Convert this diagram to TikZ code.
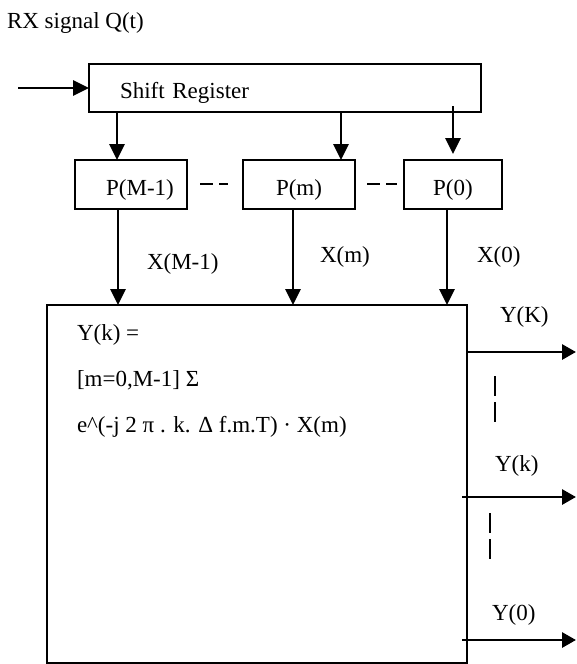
\documentclass[tikz,border=0pt]{standalone}
\usepackage{fontspec}
\setmainfont{Liberation Serif}
\usetikzlibrary{arrows.meta,calc}
\tikzset{
    dft/diagram/.style={
        x=1pt, y=-1pt,
        font=\fontsize{23}{27}\selectfont,
        line join=miter,
        every node/.style={inner sep=0pt, outer sep=0pt}
    },
    dft/block/.style={draw, rectangle, line width=1.7pt},
    dft/cell/.style={text height=26pt, text depth=5pt},
    dft/signal/.style={
        draw, line width=2.9pt,
        -{Triangle[length=16pt, width=15pt]}
    },
    dft/output/.style={
        draw, line width=2.9pt,
        -{Triangle[length=14pt, width=15pt]}
    },
    dft/dots/.style={draw, line width=1.7pt, dash pattern=on 13pt off 6pt},
    dft/label/.style={anchor=base west}
}

\begin{document}
\begin{tikzpicture}[dft/diagram]
    \useasboundingbox (0,0) rectangle (576,664);

    \node[dft/label] (title) at (7,28) {RX signal Q(t)};
    \coordinate (in) at (18,88);
    \node[dft/block, dft/cell, minimum width=392pt, minimum height=48pt,
        text width=330pt, align=left] (sreg) at (285,88) {Shift Register};
    \draw[dft/signal] (in) -- (sreg);

    % taps
    \node[dft/block, dft/cell, minimum width=112pt, minimum height=49pt]
        (pM) at (131,184.5) {\hspace{18pt}P(M-1)};
    \node[dft/block, dft/cell, minimum width=112pt, minimum height=49pt]
        (pm) at (299,184.5) {P(m)};
    \node[dft/block, dft/cell, minimum width=98pt, minimum height=49pt]
        (p0) at (453,184.5) {P(0)};
    \draw[dft/dots] (200,184) -- (228,184);
    \draw[dft/dots] (367,184) -- (397,184);

    \draw[dft/signal] (sreg.south -| 117,0) -- (pM.north -| 117,0);
    \draw[dft/signal] (sreg.south -| 341,0) -- (pm.north -| 341,0);
    \draw[dft/signal] ($(sreg.south -| p0)+(0,-6)$) -- ($(p0.north)+(0,-6)$);

    % transform block
    \node[dft/block, minimum width=420pt, minimum height=358pt]
        (dft) at (257,484) {};
    \node[dft/label] (eqa) at (77,340) {Y(k) =};
    \node[dft/label] (eqb) at (77,386) {[m=0,M-1] Σ};
    \node[dft/label] (eqc) at (77,432)
        {e\textasciicircum(-j 2 π . k. Δ f.m.T) · X(m)};

    \draw[dft/signal] (pM.south -| 118,0) -- (dft.north -| 118,0);
    \draw[dft/signal] (pm.south -| 293,0) -- (dft.north -| 293,0);
    \draw[dft/signal] (p0.south -| 447,0) -- (dft.north -| 447,0);
    \node[dft/label] (xM) at (147,269) {X(M-1)};
    \node[dft/label] (xm) at (320,262) {X(m)};
    \node[dft/label] (x0) at (477,262) {X(0)};

    % outputs
    \coordinate (yK) at (576,352);
    \coordinate (yk) at (576,497);
    \coordinate (y0) at (576,640);
    \draw[dft/output] (dft.east |- yK) -- (yK);
    \draw[dft/output] ($(dft.east |- yk)+(-5,0)$) -- (yk);
    \draw[dft/output] ($(dft.east |- y0)+(-5,0)$) -- (y0);
    \node[dft/label] (lK) at (500,322) {Y(K)};
    \node[dft/label] (lk) at (495,471) {Y(k)};
    \node[dft/label] (l0) at (492,620) {Y(0)};
    \draw[dft/dots, dash pattern=on 20pt off 6pt] (495,376) -- (495,425);
    \draw[dft/dots, dash pattern=on 20pt off 6pt] (490,513) -- (490,562);
\end{tikzpicture}
\end{document}
